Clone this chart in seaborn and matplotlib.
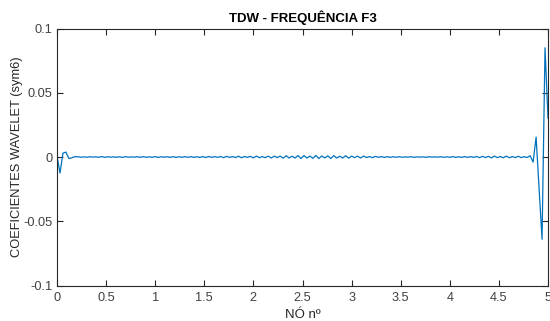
import numpy as np
import pandas as pd
import matplotlib
matplotlib.use("Agg")
import matplotlib.pyplot as plt
import seaborn as sns

# Detail coefficients (sym6) along the node axis
coef = [
    0.0010, -0.0125, 0.0030, 0.0038, -0.0012, -0.0006, 0.0003,
    0.0002, -0.0002, 0.0001, -0.0002, 0.0002, -0.0001, 0.0001, -0.0002,
    0.0003, -0.0003, 0.0002, -0.0001, 0.0001, -0.0002, 0.0002, -0.0003,
    0.0003, -0.0002, 0.0001, -0.0001, 0.0002, -0.0003, 0.0003, -0.0002,
    0.0001, -0.0002, 0.0003, -0.0003, 0.0002, -0.0001, 0.0002, -0.0003,
    0.0003, -0.0003, 0.0002, -0.0002, 0.0003, -0.0003, 0.0003, -0.0003,
    0.0002, -0.0003, 0.0003, -0.0004, 0.0004, -0.0003, 0.0003, -0.0003,
    0.0004, -0.0005, 0.0005, -0.0003, 0.0003, -0.0004, 0.0006, -0.0006,
    0.0004, -0.0003, 0.0005, -0.0007, 0.0007, -0.0005, 0.0003, -0.0005,
    0.0007, -0.0008, 0.0007, -0.0005, 0.0007, -0.0009, 0.0010, -0.0008,
    0.0006, -0.0008, 0.0011, -0.0012, 0.0011, -0.0008, 0.0007, -0.0010,
    0.0012, -0.0012, 0.0008, -0.0007, 0.0009, -0.0012, 0.0011, -0.0008,
    0.0006, -0.0008, 0.0010, -0.0009, 0.0007, -0.0005, 0.0007, -0.0008,
    0.0007, -0.0004, 0.0003, -0.0005, 0.0005, -0.0003, 0.0003, -0.0003,
    0.0003, -0.0003, 0.0002, -0.0002, 0.0002, -0.0002, 0.0001, -0.0001,
    0.0002, -0.0002, 0.0001, -0.0001, 0.0001, -0.0002, 0.0002, -0.0001,
    0.0001, -0.0001, 0.0002, -0.0002, 0.0001, -0.0002, 0.0003, -0.0003,
    0.0002, -0.0003, 0.0003, -0.0003, 0.0003, -0.0003, 0.0004, -0.0005,
    0.0005, -0.0004, 0.0005, -0.0007, 0.0007, -0.0005, 0.0004, -0.0006,
    0.0007, -0.0006, 0.0004, -0.0005, 0.0006, -0.0005, 0.0003, -0.0004,
    0.0010, -0.0040, 0.0155, -0.0250, -0.0640, 0.0850, 0.0300,
]
node = np.linspace(0, 5, len(coef))

x_ticks = [0, 0.5, 1, 1.5, 2, 2.5, 3, 3.5, 4, 4.5, 5]
x_labels = ["0", "0.5", "1", "1.5", "2", "2.5", "3", "3.5", "4", "4.5", "5"]
y_ticks = [-0.1, -0.05, 0, 0.05, 0.1]
y_labels = ["-0.1", "-0.05", "0", "0.05", "0.1"]

df = pd.DataFrame({"node": node, "coef": coef})

sns.set_style("ticks")
plt.rcParams["font.family"] = ["Liberation Sans", "DejaVu Sans"]

fig = plt.figure(figsize=(5.5, 3.21), dpi=100)
ax = fig.add_axes([57 / 550, 1 - 285.5 / 321, 491 / 550, (285.5 - 28.5) / 321])

sns.lineplot(data=df, x="node", y="coef", ax=ax, color="#0072BD",
             linewidth=0.9, estimator=None, sort=False)

ax.set_xlim(0, 5)
ax.set_ylim(-0.1, 0.1)
ax.set_xticks(x_ticks)
ax.set_xticklabels(x_labels)
ax.set_yticks(y_ticks)
ax.set_yticklabels(y_labels)

axis_col = "#262626"
for sp in ax.spines.values():
    sp.set_visible(True)
    sp.set_color(axis_col)
    sp.set_linewidth(0.8)
ax.tick_params(direction="in", length=4, width=0.8, colors=axis_col,
               labelcolor="#404040", labelsize=9.2, top=True, right=True)
ax.tick_params(axis="x", pad=5)
ax.tick_params(axis="y", pad=3.5)

ax.set_title("TDW - FREQUÊNCIA F3", fontsize=9.5, fontweight="bold",
             color="black", pad=5)
ax.set_xlabel("NÓ nº", fontsize=9.5, color="#262626")
ax.set_ylabel("COEFICIENTES WAVELET (sym6)", fontsize=9.3, color="#262626")
ax.xaxis.set_label_coords(0.5, (285.5 - 309) / 257)
ax.yaxis.set_label_coords((23.5 - 57) / 491, 0.5)

fig.savefig("out.png", dpi=100)
